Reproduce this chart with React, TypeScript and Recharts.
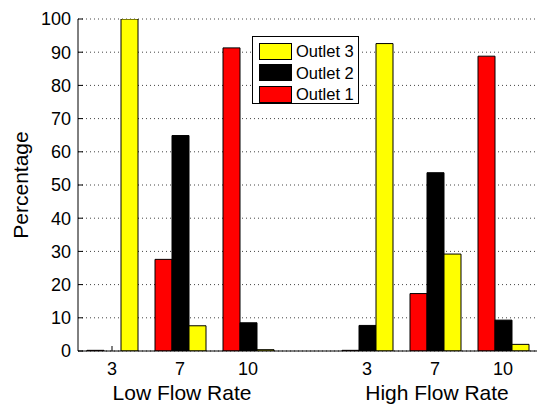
import { BarChart, Bar, XAxis, YAxis, CartesianGrid, Legend } from "recharts";

// group positions on the x axis (low flow: 1..3, high flow: 4.75..6.75)
const positions = [1, 2, 3, 4.75, 5.75, 6.75];
const tickLabels = ["3", "7", "10", "3", "7", "10"];
const groupLabels = ["Low Flow Rate", "High Flow Rate"];
const groupCenters = [2, 5.75];

const outlet1 = [0.2, 27.6, 91.3, 0.2, 17.3, 88.8];
const outlet2 = [0, 64.9, 8.5, 7.7, 53.7, 9.3];
const outlet3 = [100, 7.6, 0.4, 92.6, 29.2, 2.0];

const yTicks = [0, 10, 20, 30, 40, 50, 60, 70, 80, 90, 100];

const data = positions.map((x, i) => ({
  x,
  o1: outlet1[i],
  o2: outlet2[i],
  o3: outlet3[i],
}));

const FONT = "'Liberation Sans', Arial, Helvetica, sans-serif";
const xDomain = [0.5, 7.25];

function XTick(props: any) {
  const { x, y, payload } = props;
  const i = positions.indexOf(payload.value);
  const g = groupCenters.indexOf(payload.value);
  return (
    <g>
      <text x={x} y={y} dy="0.71em" textAnchor="middle" fontSize={18} fontFamily={FONT} fill="#000">
        {tickLabels[i]}
      </text>
      {g >= 0 && (
        <text x={x + 2} y={y + 38} textAnchor="middle" fontSize={21} fontFamily={FONT} fill="#000">
          {groupLabels[g]}
        </text>
      )}
    </g>
  );
}

function LegendBox(props: any) {
  const items = [...(props.payload || [])].reverse();
  return (
    <div
      style={{
        width: 105,
        height: 66,
        border: "1px solid #000",
        background: "#fff",
        fontFamily: FONT,
        fontSize: 16.5,
        position: "relative",
      }}
    >
      {items.map((it: any, k: number) => (
        <div
          key={it.value}
          style={{ position: "absolute", left: 6, top: 5 + k * 21.5, height: 18, display: "flex", alignItems: "center" }}
        >
          <span
            style={{
              display: "inline-block",
              width: 31,
              height: 15,
              background: it.color,
              border: "1px solid #000",
              marginRight: 4,
            }}
          />
          <span style={{ lineHeight: "18px" }}>{it.value}</span>
        </div>
      ))}
    </div>
  );
}

export default function App() {
  return (
    <div style={{ position: "absolute", left: 0, top: 0, background: "#fff" }}>
      <BarChart
        width={538}
        height={406}
        data={data}
        margin={{ top: 19, right: 1, bottom: 0, left: 0 }}
        barGap={0}
      >
        <CartesianGrid vertical={false} stroke="#444" strokeDasharray="1 3" />
        <XAxis
          type="number"
          dataKey="x"
          domain={xDomain}
          allowDataOverflow
          ticks={positions}
          interval={0}
          height={55}
          tickSize={-5}
          tickMargin={16}
          tick={<XTick />}
          stroke="#000"
        />
        <XAxis
          xAxisId="top"
          orientation="top"
          type="number"
          dataKey="x"
          domain={xDomain}
          allowDataOverflow
          ticks={positions}
          interval={0}
          height={0}
          mirror
          tick={false}
          tickSize={5}
          stroke="#000"
        />
        <YAxis
          type="number"
          domain={[0, 100]}
          allowDataOverflow
          ticks={yTicks}
          interval={0}
          width={78}
          tickSize={-5}
          tickMargin={12}
          tick={{ fontSize: 18, fontFamily: FONT, fill: "#000" }}
          stroke="#000"
          label={(p: any) => {
            const vb = p.viewBox || {};
            const cy = (vb.y ?? 19) + (vb.height ?? 332) / 2;
            return (
              <text
                x={20}
                y={cy}
                transform={`rotate(-90, 20, ${cy})`}
                textAnchor="middle"
                dominantBaseline="central"
                fontSize={21}
                fontFamily={FONT}
                fill="#000"
              >
                Percentage
              </text>
            );
          }}
        />
        <YAxis
          yAxisId="right"
          orientation="right"
          type="number"
          domain={[0, 100]}
          allowDataOverflow
          ticks={yTicks}
          interval={0}
          width={0}
          mirror
          tick={false}
          tickSize={5}
          stroke="#000"
        />
        <Legend
          layout="horizontal"
          verticalAlign="middle"
          align="center"
          content={<LegendBox />}
          wrapperStyle={{ left: 252, top: 36, width: 107, height: 68 }}
        />
        <Bar dataKey="o1" name="Outlet 1" fill="#ff0000" stroke="#000" barSize={17} isAnimationActive={false} />
        <Bar dataKey="o2" name="Outlet 2" fill="#000000" stroke="#000" barSize={17} isAnimationActive={false} />
        <Bar dataKey="o3" name="Outlet 3" fill="#ffff00" stroke="#000" barSize={17} isAnimationActive={false} />
      </BarChart>
    </div>
  );
}
